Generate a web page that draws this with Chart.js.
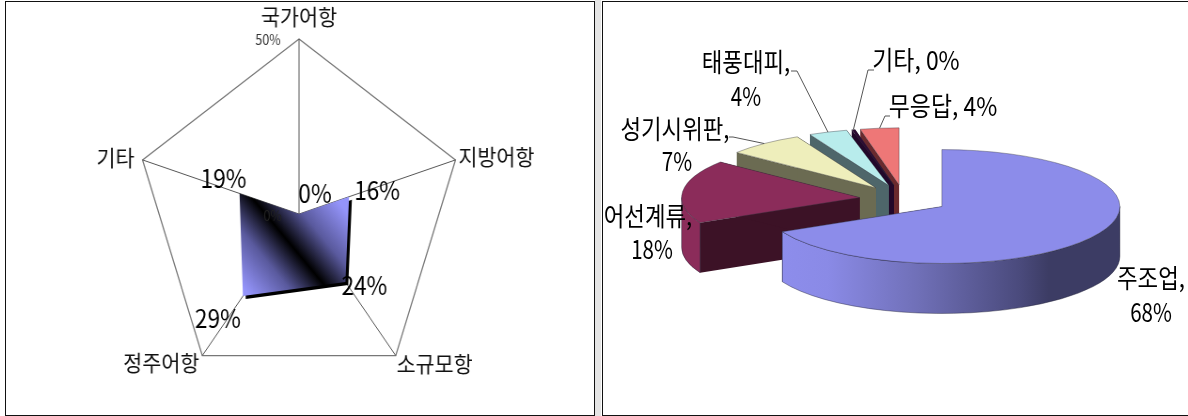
<!DOCTYPE html>
<html lang="ko">
<head>
<meta charset="utf-8">
<script src="https://cdn.jsdelivr.net/npm/chart.js@4"></script>
<style>
  html, body { margin: 0; padding: 0; background: #fff; overflow: hidden; }
  #page { position: relative; width: 1188px; height: 416px; }
  .gutter { position: absolute; left: 595px; top: 0; width: 6px; height: 416px; background: #e4e4e4; }
  .frame { position: absolute; border: 1px solid #111; box-sizing: border-box; background: #fff; }
  #frameLeft { left: 5px; top: 1px; width: 590px; height: 415px; }
  #frameRight { left: 602px; top: 1px; width: 590px; height: 415px; }
  canvas { position: absolute; top: 0; }
  #radarChart { left: 0; transform-origin: 299px 0; transform: scaleX(0.94); }
  #pieChart { left: 600px; }
</style>
</head>
<body>
<div id="page">
  <div class="gutter"></div>
  <div class="frame" id="frameLeft"></div>
  <div class="frame" id="frameRight"></div>
  <canvas id="radarChart" width="600" height="416"></canvas>
  <canvas id="pieChart" width="588" height="416"></canvas>
</div>
<script>
// 왼쪽 방사형 차트 데이터
const radarLabels = ['국가어항', '지방어항', '소규모항', '정주어항', '기타'];
const radarValues = [0, 16, 24, 29, 19];
const radarTickLabels = ['0%', '50%'];

// 오른쪽 3D 파이 데이터
const pieLabels = ['주조업', '어선계류', '성기시위판', '태풍대피', '기타', '무응답'];
const pieValues = [67.7, 18, 7, 3.5, 0.3, 3.5];
const pieShown = ['68%', '18%', '7%', '4%', '0%', '4%'];

const pieTopColors = ['#8C8CEA', '#8B2C5A', '#EEEEBB', '#B8ECEC', '#2E0A33', '#EE7777'];
const pieCutColors = ['#3C3C64', '#3C1226', '#6B6B52', '#4E666A', '#22082A', '#6A2A2E'];

const FONT = '"Noto Sans CJK KR", "Noto Sans", sans-serif';
const RADAR_SQUEEZE = 0.94;
const PIE_TILT = 0.32;     // 타원 세로 비율
const PIE_DEPTH = 50;      // 옆면 두께
const PIE_EXPLODE = 44.6;  // 조각 분리 거리

// 글자를 가로로 좁혀서 그린다 (원본 글꼴이 좁음)
const drawText = (ctx, text, x, y, size, squeeze, color, align) => {
  ctx.save();
  ctx.translate(x, y);
  ctx.scale(squeeze, 1);
  ctx.font = `${size}px ${FONT}`;
  ctx.fillStyle = color || '#000';
  ctx.textAlign = align || 'center';
  ctx.textBaseline = 'middle';
  ctx.fillText(text, 0, 0);
  ctx.restore();
};

// 방사형: 화면 좌표 오프셋(꼭짓점 기준)
const radarNameOffsets = [[0, -22], [41, -3], [39, 8], [-41, 7], [-27, -2]];
const radarValueOffsets = [[16, -21], [28, -6], [19, 4], [-25, 22], [-16, -15]];

const radarOverlay = {
  id: 'radarOverlay',
  beforeDatasetsDraw(chart) {
    const ctx = chart.ctx;
    ctx.save();
    ctx.shadowColor = '#000';
    ctx.shadowOffsetX = 3;
    ctx.shadowOffsetY = 3;
    ctx.shadowBlur = 0;
  },
  afterDatasetsDraw(chart) {
    chart.ctx.restore();
  },
  afterDraw(chart) {
    const ctx = chart.ctx;
    const scale = chart.scales.r;
    radarLabels.forEach((name, i) => {
      const outer = scale.getPointPosition(i, scale.drawingArea);
      drawText(ctx, name,
        outer.x + radarNameOffsets[i][0] / RADAR_SQUEEZE,
        outer.y + radarNameOffsets[i][1], 22, 1, '#111');
      const p = scale.getPointPositionForValue(i, radarValues[i]);
      drawText(ctx, radarValues[i] + '%',
        p.x + radarValueOffsets[i][0] / RADAR_SQUEEZE,
        p.y + radarValueOffsets[i][1], 25, 0.96, '#000');
    });
    const top = scale.getPointPosition(0, scale.drawingArea);
    drawText(ctx, radarTickLabels[1], top.x - 33, top.y + 1, 14, 0.95, '#333');
    drawText(ctx, radarTickLabels[0], scale.xCenter - 28, scale.yCenter + 2, 14, 0.95, '#222');
  }
};

new Chart(document.getElementById('radarChart'), {
  type: 'radar',
  data: {
    labels: radarLabels,
    datasets: [{
      data: radarValues,
      borderWidth: 0,
      pointRadius: 0,
      fill: true,
      backgroundColor: (c) => {
        const scale = c.chart.scales.r;
        if (!scale || !Number.isFinite(scale.xCenter) || !scale.drawingArea) return '#8C8CEA';
        const from = scale.getPointPositionForValue(3, radarValues[3]);
        const to = scale.getPointPositionForValue(1, radarValues[1]);
        if (!Number.isFinite(from.x) || !Number.isFinite(to.x)) return '#8C8CEA';
        const g = c.chart.ctx.createLinearGradient(from.x, from.y, to.x, to.y);
        g.addColorStop(0.04, '#9494FA');
        g.addColorStop(0.28, '#5A5A9E');
        g.addColorStop(0.48, '#000');
        g.addColorStop(0.68, '#5A5A9E');
        g.addColorStop(0.92, '#9494FA');
        return g;
      }
    }]
  },
  options: {
    responsive: false,
    animation: false,
    layout: { padding: { top: 39, bottom: 27, right: 2 } },
    plugins: { legend: { display: false }, title: { display: false }, tooltip: { enabled: false } },
    scales: {
      r: {
        z: 1,
        min: 0,
        max: 50,
        ticks: { stepSize: 50, display: false },
        pointLabels: { display: false },
        grid: { color: '#777', lineWidth: 1.3 },
        angleLines: { color: '#555', lineWidth: 1 }
      }
    }
  },
  plugins: [radarOverlay]
});

// 파이 라벨: 줄 단위 문자열과 위치
const pieLabelLines = pieLabels.map((name, i) => {
  if (i === 4 || i === 5) return [`${name}, ${pieShown[i]}`];
  return [`${name},`, pieShown[i]];
});
const pieLabelAnchors = [[1151, 278], [648, 216], [675, 129], [746, 62], [916, 60], [943, 106]];
const pieLineHeight = [34, 33, 32, 34, 0, 0];
const pieValueShiftX = [0, 4, 2, 0, 0, 0];
const pieLeaderStarts = [null, null, [[729, 137], [733, 137]], [[791, 71], [797, 71]], [[874, 70], [868, 70]], [[890, 116], [885, 116]]];

const pieCenter = (arc) => {
  const mid = (arc.startAngle + arc.endAngle) / 2;
  return {
    x: arc.x + Math.cos(mid) * PIE_EXPLODE,
    y: arc.y + Math.sin(mid) * PIE_EXPLODE * PIE_TILT
  };
};

const sideGradient = (ctx, c, rx) => {
  const g = ctx.createLinearGradient(c.x - rx, 0, c.x + rx, 0);
  g.addColorStop(0, '#8E8EEE');
  g.addColorStop(0.18, '#8A8AE6');
  g.addColorStop(0.43, '#7070B8');
  g.addColorStop(0.72, '#4A4A7C');
  g.addColorStop(0.8, '#3C3C64');
  g.addColorStop(1, '#3C3C64');
  return g;
};

const drawSlice = (ctx, arc, i) => {
  const c = pieCenter(arc);
  const rx = arc.outerRadius;
  const ry = rx * PIE_TILT;

  // 잘린 면
  [arc.startAngle, arc.endAngle].forEach((a) => {
    const px = c.x + Math.cos(a) * rx;
    const py = c.y + Math.sin(a) * ry;
    ctx.beginPath();
    ctx.moveTo(c.x, c.y);
    ctx.lineTo(px, py);
    ctx.lineTo(px, py + PIE_DEPTH);
    ctx.lineTo(c.x, c.y + PIE_DEPTH);
    ctx.closePath();
    ctx.fillStyle = pieCutColors[i];
    ctx.fill();
  });

  // 바깥 옆면 (앞쪽 반원만)
  const s = Math.max(arc.startAngle, 0);
  const e = Math.min(arc.endAngle, Math.PI);
  if (e > s) {
    ctx.beginPath();
    ctx.ellipse(c.x, c.y, rx, ry, 0, s, e);
    ctx.ellipse(c.x, c.y + PIE_DEPTH, rx, ry, 0, e, s, true);
    ctx.closePath();
    ctx.fillStyle = i === 0 ? sideGradient(ctx, c, rx) : pieTopColors[i];
    ctx.fill();
    ctx.strokeStyle = 'rgba(40,40,60,0.55)';
    ctx.lineWidth = 0.8;
    ctx.stroke();
  }

  // 윗면은 라이브러리의 arc 요소로 그린다
  ctx.save();
  ctx.translate(c.x, c.y);
  ctx.scale(1, PIE_TILT);
  ctx.translate(-arc.x, -arc.y);
  arc.draw(ctx);
  ctx.restore();

  // 윗면 테두리
  ctx.beginPath();
  ctx.moveTo(c.x, c.y);
  ctx.ellipse(c.x, c.y, rx, ry, 0, arc.startAngle, arc.endAngle);
  ctx.closePath();
  ctx.strokeStyle = 'rgba(50,50,60,0.55)';
  ctx.lineWidth = 0.7;
  ctx.stroke();
};

const pieOverlay = {
  id: 'pieOverlay',
  beforeDatasetDraw(chart, args) {
    const ctx = chart.ctx;
    // 뒤쪽 조각부터 차례로
    for (let i = args.meta.data.length - 1; i >= 0; i--) {
      ctx.save();
      drawSlice(ctx, args.meta.data[i], i);
      ctx.restore();
    }
    return false;
  },
  afterDraw(chart) {
    const ctx = chart.ctx;
    const arcs = chart.getDatasetMeta(0).data;
    const originX = chart.canvas.offsetLeft;
    pieLeaderStarts.forEach((pts, i) => {
      if (!pts) return;
      const arc = arcs[i];
      const c = pieCenter(arc);
      const mid = (arc.startAngle + arc.endAngle) / 2;
      ctx.beginPath();
      ctx.moveTo(pts[0][0] - originX, pts[0][1]);
      ctx.lineTo(pts[1][0] - originX, pts[1][1]);
      ctx.lineTo(c.x + Math.cos(mid) * arc.outerRadius, c.y + Math.sin(mid) * arc.outerRadius * PIE_TILT);
      ctx.strokeStyle = '#555';
      ctx.lineWidth = 1;
      ctx.stroke();
    });
    pieLabelLines.forEach((lines, i) => {
      lines.forEach((line, n) => {
        // 한 줄 라벨, 이름 줄, 퍼센트 줄의 폭이 서로 다르다
        const squeeze = lines.length === 1 ? 0.88 : (n === 0 ? 0.86 : 0.79);
        drawText(ctx, line, pieLabelAnchors[i][0] - originX + n * pieValueShiftX[i],
          pieLabelAnchors[i][1] + n * pieLineHeight[i], 26, squeeze, '#000');
      });
    });
  }
};

new Chart(document.getElementById('pieChart'), {
  type: 'pie',
  data: {
    labels: pieLabels,
    datasets: [{
      data: pieValues,
      backgroundColor: pieTopColors,
      borderWidth: 0
    }]
  },
  options: {
    responsive: false,
    animation: false,
    layout: { padding: { left: 126, right: 106, top: 21, bottom: 39 } },
    plugins: { legend: { display: false }, title: { display: false }, tooltip: { enabled: false } }
  },
  plugins: [pieOverlay]
});
</script>
</body>
</html>
